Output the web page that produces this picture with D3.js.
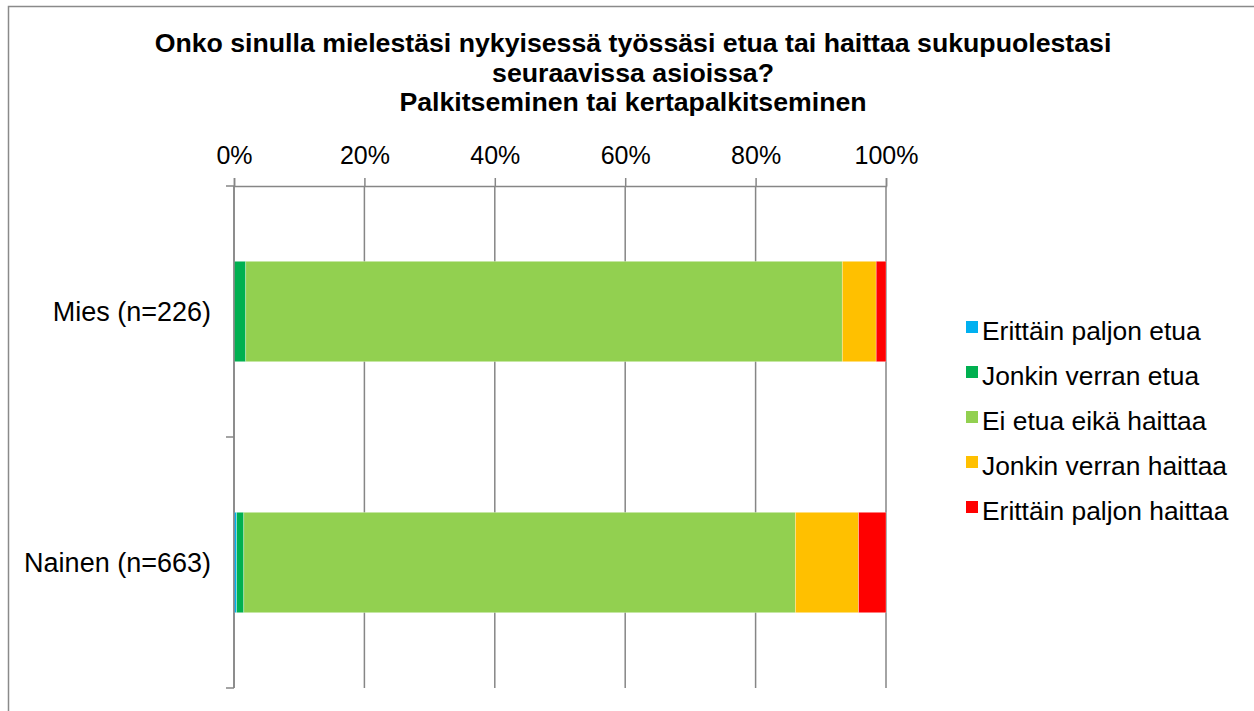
<!DOCTYPE html>
<html>
<head>
<meta charset="utf-8">
<script src="https://cdn.jsdelivr.net/npm/d3@7/dist/d3.min.js"></script>
<style>
  html, body { margin: 0; padding: 0; background: #fff; }
  svg { display: block; font-family: "Liberation Sans", Arial, sans-serif; }
</style>
</head>
<body>
<svg id="chart" width="1254" height="711"></svg>
<script>
const titleLines = [
  "Onko sinulla mielestäsi nykyisessä työssäsi etua tai haittaa sukupuolestasi",
  "seuraavissa asioissa?",
  "Palkitseminen tai kertapalkitseminen"
];
const categories = ["Mies (n=226)", "Nainen (n=663)"];
const seriesNames = ["Erittäin paljon etua", "Jonkin verran etua", "Ei etua eikä haittaa", "Jonkin verran haittaa", "Erittäin paljon haittaa"];
const seriesColors = ["#00B0F0", "#00B050", "#92D050", "#FFC000", "#FF0000"];
const miesValues = [0, 1.8, 91.5, 5.2, 1.5];
const nainenValues = [0.4, 1.1, 84.6, 9.7, 4.2];
const tickValues = [0, 20, 40, 60, 80, 100];

const rows = categories.map((c, i) => {
  const vals = i === 0 ? miesValues : nainenValues;
  const o = { category: c };
  seriesNames.forEach((s, j) => o[s] = vals[j]);
  return o;
});

const svg = d3.select("#chart");
const gridColor = "#868686";

// outer border
svg.append("path")
  .attr("d", "M8.5,720 L8.5,6.5 L1260,6.5")
  .attr("fill", "none").attr("stroke", "#8a8a8a").attr("stroke-width", 1.5);

// title
const title = svg.append("text").attr("text-anchor", "middle")
  .attr("font-weight", "bold").attr("font-size", 26.7).attr("fill", "#000");
titleLines.forEach((t, i) => {
  title.append("tspan").attr("x", 633).attr("y", 52 + i * 29.5).text(t);
});

const x = d3.scaleLinear().domain([0, 100]).range([234, 886]);
const y = d3.scaleBand().domain(categories).range([186, 688]).paddingInner(0.6).paddingOuter(0.3);

// gridlines
svg.append("g").selectAll("line").data(tickValues).join("line")
  .attr("x1", d => x(d)).attr("x2", d => x(d))
  .attr("y1", 186).attr("y2", 688)
  .attr("stroke", gridColor).attr("stroke-width", 1.5);

// bars
const stack = d3.stack().keys(seriesNames);
const stacked = stack(rows);
svg.append("g").selectAll("g").data(stacked).join("g")
  .attr("fill", (d, i) => seriesColors[i])
  .selectAll("rect").data(d => d).join("rect")
  .attr("x", d => x(d[0]))
  .attr("width", d => Math.max(0, x(d[1]) - x(d[0])))
  .attr("y", d => y(d.data.category))
  .attr("height", y.bandwidth())
  .attr("stroke", "#fff").attr("stroke-opacity", 0.4).attr("stroke-width", 0.75);

// top axis
const xAxis = d3.axisTop(x).tickValues(tickValues).tickFormat(d => d + "%")
  .tickSize(8).tickPadding(14);
const gx = svg.append("g").attr("transform", "translate(0,186)").call(xAxis);
gx.select(".domain").attr("stroke", gridColor).attr("stroke-width", 1.5);
gx.selectAll(".tick line").attr("stroke", gridColor).attr("stroke-width", 1.5);
gx.selectAll(".tick text").attr("font-size", 25).attr("fill", "#000")
  .attr("font-family", "Liberation Sans, Arial, sans-serif");

// left axis line and ticks at band boundaries
svg.append("line").attr("x1", 234).attr("x2", 234).attr("y1", 186).attr("y2", 688)
  .attr("stroke", gridColor).attr("stroke-width", 1.5);
const bounds = [186, 186 + y.step(), 186 + 2 * y.step()];
svg.append("g").selectAll("line").data(bounds).join("line")
  .attr("x1", 226).attr("x2", 234).attr("y1", d => d).attr("y2", d => d)
  .attr("stroke", gridColor).attr("stroke-width", 1.5);

// category labels
svg.append("g").selectAll("text").data(categories).join("text")
  .attr("x", 211).attr("y", d => y(d) + y.bandwidth() / 2 + 9.5)
  .attr("text-anchor", "end").attr("font-size", 27).attr("fill", "#000")
  .text(d => d);

// legend
const legend = svg.append("g").selectAll("g").data(seriesNames).join("g")
  .attr("transform", (d, i) => `translate(966, ${340 + i * 45})`);
legend.append("rect").attr("x", 0).attr("y", -19).attr("width", 12).attr("height", 12)
  .attr("fill", (d, i) => seriesColors[i]);
legend.append("text").attr("x", 16).attr("y", 0).attr("font-size", 26.4).attr("fill", "#000")
  .text(d => d);
</script>
</body>
</html>
